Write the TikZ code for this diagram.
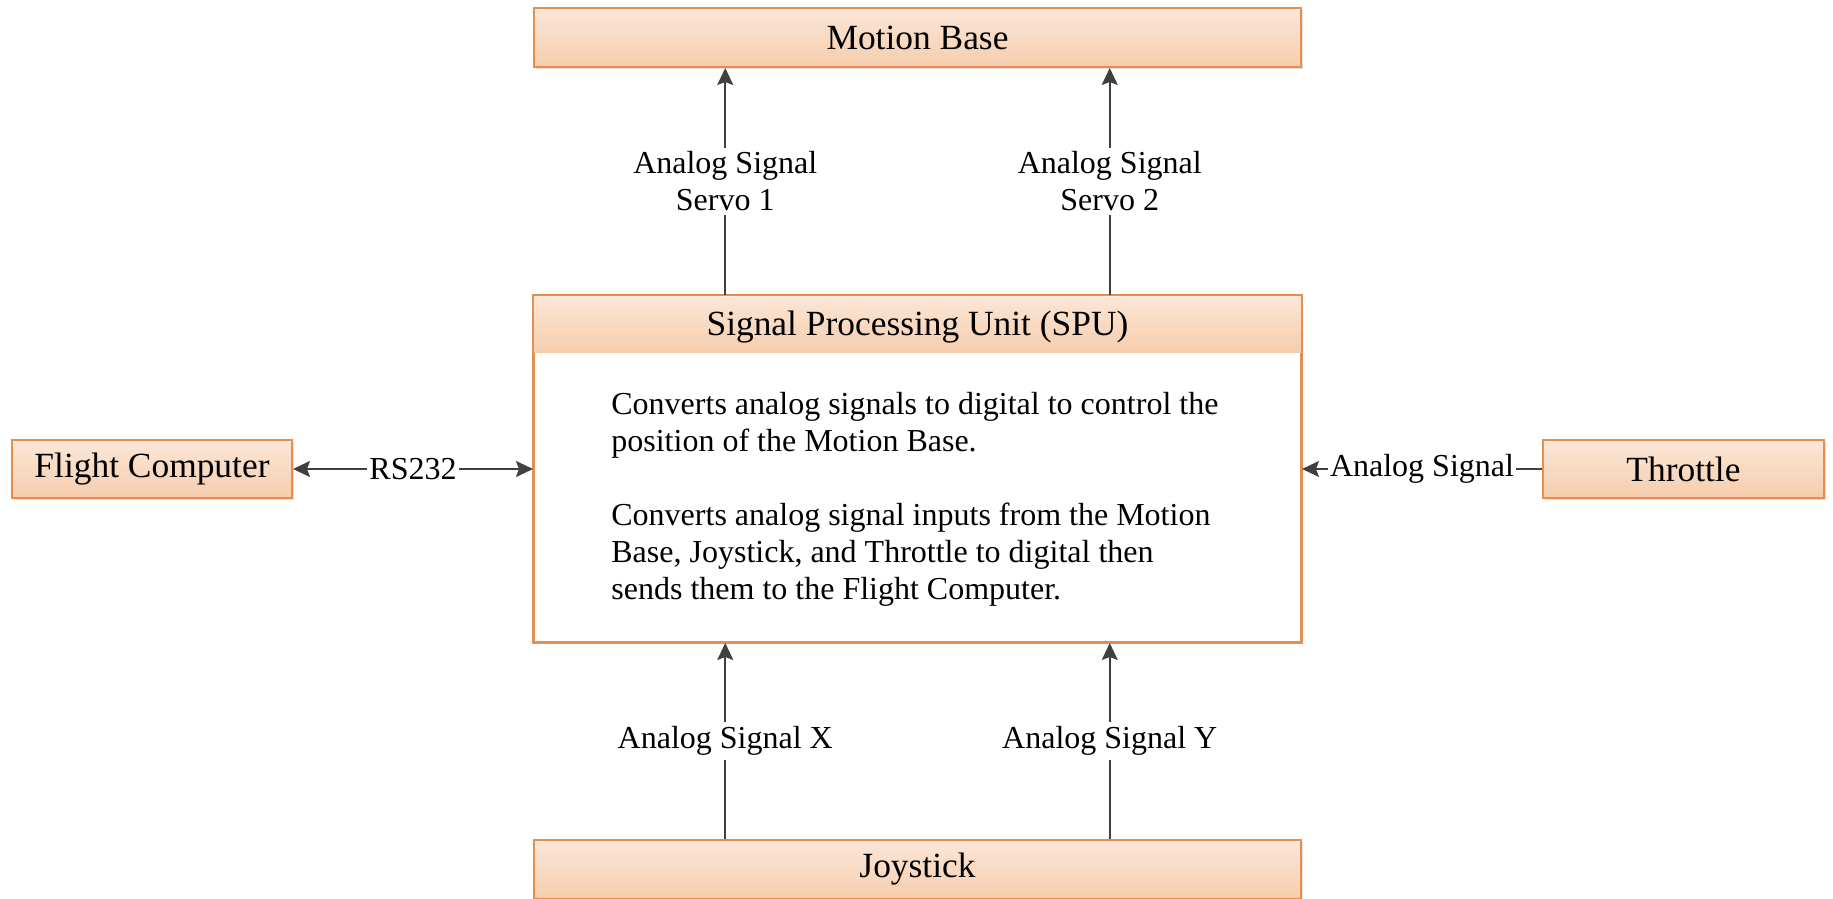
\documentclass[tikz,border=0pt]{standalone}
\usepackage{fontspec}
\setmainfont{Liberation Serif}
\usetikzlibrary{arrows.meta, positioning, calc, shadows}
\definecolor{boxline}{RGB}{228,142,82}
\definecolor{boxtop}{RGB}{251,231,216}
\definecolor{boxbot}{RGB}{246,205,172}
\definecolor{wire}{RGB}{64,64,64}

\tikzset{
    txt/.style={font=\fontsize{16}{18.5}\selectfont},
    big/.style={font=\fontsize{17.7}{20}\selectfont},
    block/.style={big, draw=boxline, line width=1pt, top color=boxtop, bottom color=boxbot,
        inner sep=0pt, minimum height=29.5pt,
        drop shadow={shadow xshift=1.2pt, shadow yshift=-1.2pt, opacity=0.25}},
    tip/.tip={Stealth[length=8.5pt, width=8pt, inset=1.5pt]},
    wirearrow/.style={wire, line width=0.9pt, -tip},
    sig/.style={txt, text=black, fill=white, inner sep=2pt, align=center}
}

\begin{document}
\begin{tikzpicture}[x=0.5pt, y=-0.5pt]

    %% Page frame
    \useasboundingbox (0,0) rectangle (1833,899);

    %% --- Blocks ---
    \node[block, minimum width=383.5pt] (motion) at (917.5,37.5) {Motion Base};
    \node[block, minimum width=140pt, minimum height=29pt] (flight) at (152,469) {Flight Computer};
    \node[block, minimum width=140.5pt, minimum height=29pt] (throttle) at (1683.5,469) {Throttle};
    \node[block, minimum width=383.5pt] (joystick) at (917.5,869.5) {Joystick};

    %% --- SPU ---
    \node[txt, draw=boxline, line width=1pt, fill=white, minimum width=383.5pt, minimum height=173pt,
        drop shadow={shadow xshift=1.2pt, shadow yshift=-1.2pt, opacity=0.25}] (spu) at (917.5,469) {};
    \node[big, top color=boxtop, bottom color=boxbot, inner sep=0pt, minimum width=383.5pt,
        minimum height=28.5pt, text height=15.5pt, text depth=3.5pt, anchor=north] (spuhead)
        at (spu.north) {Signal Processing Unit (SPU)};
    \draw[boxline, line width=1pt] (spu.south west) rectangle (spu.north east);
    \node[txt, anchor=north west, inner sep=0pt, align=left] (spubody) at (611,392)
        {Converts analog signals to digital to control the\\
         position of the Motion Base.\\[18.5pt]
         Converts analog signal inputs from the Motion\\
         Base, Joystick, and Throttle to digital then\\
         sends them to the Flight Computer.};

    %% --- Ports on the SPU ---
    \coordinate (s1) at ($(spu.north west)!0.25!(spu.north east)$);
    \coordinate (s2) at ($(spu.north west)!0.75!(spu.north east)$);
    \coordinate (jx) at ($(joystick.north west)!0.25!(joystick.north east)$);
    \coordinate (jy) at ($(joystick.north west)!0.75!(joystick.north east)$);

    %% --- Connectors ---
    \draw[wirearrow] (s1) -- node[sig] {Analog Signal\\Servo 1} (s1 |- motion.south);
    \draw[wirearrow] (s2) -- node[sig] {Analog Signal\\Servo 2} (s2 |- motion.south);
    \draw[wirearrow] (jx) -- node[sig] {Analog Signal X} (jx |- spu.south);
    \draw[wirearrow] (jy) -- node[sig] {Analog Signal Y} (jy |- spu.south);
    \draw[wirearrow, tip-tip]
        (flight.east) -- node[sig, inner sep=1pt] {RS232} (flight.east -| spu.west);
    \draw[wirearrow] (throttle.west) -- node[sig, inner sep=1pt] {Analog Signal} (throttle.west -| spu.east);

\end{tikzpicture}
\end{document}
